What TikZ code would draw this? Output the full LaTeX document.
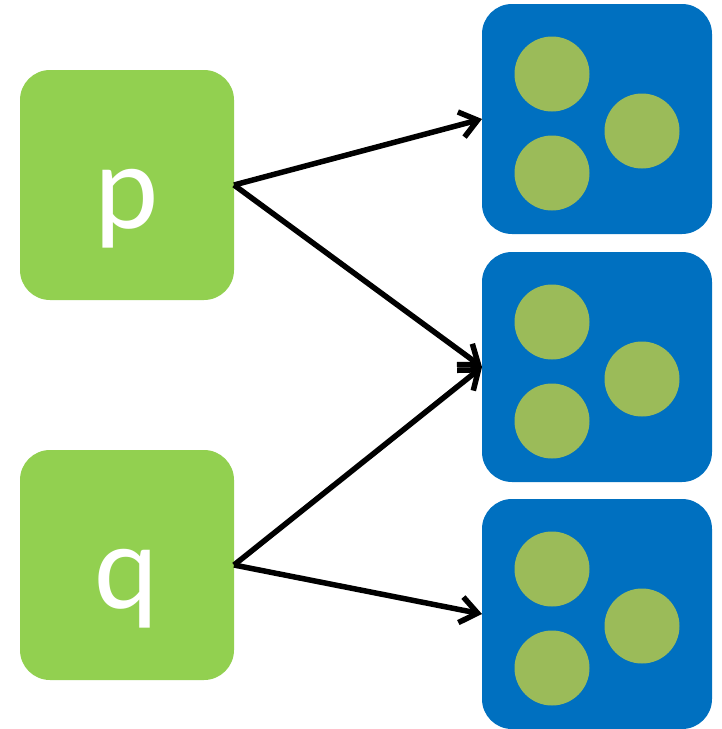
\documentclass[tikz,border=0pt]{standalone}
\usepackage{fontspec}
\setmainfont{Carlito}
\usetikzlibrary{arrows.meta}
\definecolor{lgreen}{HTML}{92D050}
\definecolor{cblue}{HTML}{0070C0}
\definecolor{olive}{HTML}{9BBB59}
\begin{document}
\begin{tikzpicture}[x=1pt,y=-1pt,
  srcbox/.style={rectangle,rounded corners=30pt,fill=lgreen,minimum width=214pt,minimum height=230pt,inner sep=0pt,outer sep=0pt,text=white,font=\fontsize{122}{130}\selectfont},
  setbox/.style={rectangle,rounded corners=30pt,fill=cblue,minimum width=230pt,minimum height=230pt,inner sep=0pt,outer sep=0pt},
  dot/.style={circle,fill=olive,minimum size=75pt,inner sep=0pt,outer sep=0pt},
  conn/.style={line width=5.5pt,-{Straight Barb[length=17pt,width=26pt,line width=5.5pt]}}]
\useasboundingbox (0,0) rectangle (721,729);
\node[srcbox] (p) at (127,185) {};
\node[srcbox] (q) at (127,565) {};
\node[text=white,font=\fontsize{122}{130}\selectfont,anchor=base,inner sep=0pt] (pl) at (127,228) {p};
\node[text=white,font=\fontsize{122}{130}\selectfont,anchor=base,inner sep=0pt] (ql) at (127,608) {q};
\foreach \n/\y in {b1/119,b2/367,b3/614}{
  \node[setbox] (\n) at (597,\y) {};
  \node[dot] (\n a) at (552,\y-45) {};
  \node[dot] (\n b) at (642,\y+12) {};
  \node[dot] (\n c) at (552,\y+54) {};
}
\draw[conn] (p.east) -- (b1.west);
\draw[conn] (p.east) -- (b2.west);
\draw[conn] (q.east) -- (b2.west);
\draw[conn] (q.east) -- (b3.west);
\end{tikzpicture}
\end{document}
